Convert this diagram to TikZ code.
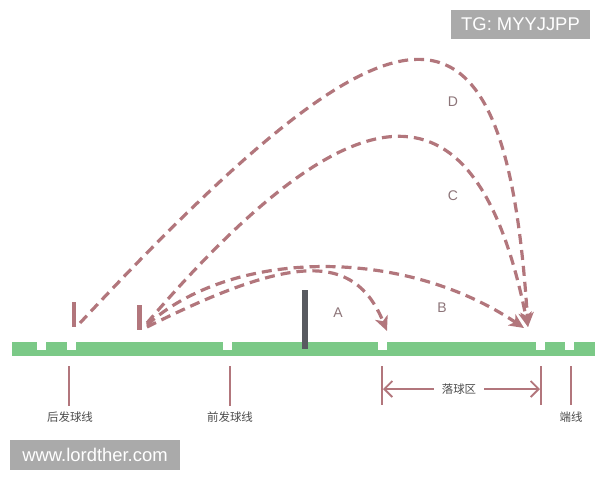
\documentclass[tikz,border=0pt]{standalone}
\usepackage{fontspec}
\setmainfont{Liberation Sans}
\newfontfamily\cjk{Noto Sans CJK SC}
\usetikzlibrary{arrows.meta}
\definecolor{court}{RGB}{123,201,135}
\definecolor{mauve}{RGB}{178,118,124}
\definecolor{netgray}{RGB}{88,90,96}
\definecolor{lettergray}{RGB}{140,116,120}
\definecolor{labgray}{RGB}{75,75,75}
\definecolor{markgray}{RGB}{170,170,170}

\begin{document}
\begin{tikzpicture}[x=0.75pt,y=0.75pt,yscale=-1,xscale=1,
    shot/.style={draw=mauve,line width=2.4pt,dash pattern=on 7.5pt off 4.5pt,
      -{Stealth[length=11pt,width=10pt,inset=3pt]}},
    tick/.style={draw=mauve,line width=1.4pt},
    marker/.style={fill=mauve,inner sep=0pt,minimum width=3.2pt,minimum height=18.5pt},
    lbl/.style={inner sep=0.75pt,text=labgray,font=\cjk\fontsize{8.6}{10}\selectfont},
    letter/.style={inner sep=0.75pt,text=lettergray,font=\fontsize{10.5}{12}\selectfont},
    wmark/.style={fill=markgray,text=white,inner sep=0pt,font=\fontsize{13.8}{16}\selectfont}]
    \useasboundingbox (0,0) rectangle (600,480);

    %Court with line notches
    \fill[court] (12,342) rectangle (595,356);
    \foreach \x in {41.5,71.5,227.5,382.5,540.5,569.5}
      \fill[white] (\x-4.5,342) rectangle (\x+4.5,350);
    %Net
    \fill[netgray] (302,290) rectangle (308,349);

    %Serve positions
    \node [marker] (backmark) at (74,314.5) {};
    \node [marker,minimum width=3.8pt] (frontmark) at (139.5,317.5) {};

    %Start and landing points
    \coordinate (dstart) at (80,323);
    \coordinate (cstart) at (147,323);
    \coordinate (bstart) at (147,325);
    \coordinate (astart) at (147,327);
    \coordinate (landa) at (387,331);
    \coordinate (landb) at (524,328);
    \coordinate (landcd) at (528,327);

    %Shots
    \draw [shot] (dstart) .. controls (400,-20) and (505,-35) .. (landcd);
    \draw [shot] (cstart) .. controls (358,77) and (477,73) .. (landcd);
    \draw [shot] (bstart) .. controls (230,250) and (400,245) .. (landb);
    \draw [shot] (astart) .. controls (291,255) and (354,251) .. (landa);

    % Text Node
    \node [letter] (la) at (338,313) {A};
    \node [letter] (lb) at (442,308) {B};
    \node [letter] (lc) at (453,196) {C};
    \node [letter] (ld) at (453,102) {D};

    %Lines under the court
    \node [lbl] (backline) at (70,417) {后发球线};
    \node [lbl] (frontline) at (230,417) {前发球线};
    \node [lbl] (endline) at (571,417) {端线};
    \node [lbl] (zone) at (459,389) {落球区};
    \draw [tick] (69,366) -- (69,406);
    \draw [tick] (230,366) -- (230,406);
    \draw [tick] (382,366) -- (382,405);
    \draw [tick] (541,366) -- (541,405);
    \draw [tick] (571,366) -- (571,405);
    \draw [tick,-{Straight Barb[length=6pt,width=12pt]}] (zone.west)++(-7,0) -- (383,389);
    \draw [tick,-{Straight Barb[length=6pt,width=12pt]}] (zone.east)++(7,0) -- (540,389);

    %Watermarks
    \node [wmark,minimum width=104.25pt,minimum height=21.75pt] (tg) at (520.5,24.5) {TG: MYYJJPP};
    \node [wmark,minimum width=127.5pt,minimum height=22.5pt] (site) at (95,455) {www.lordther.com};

\end{tikzpicture}
\end{document}
